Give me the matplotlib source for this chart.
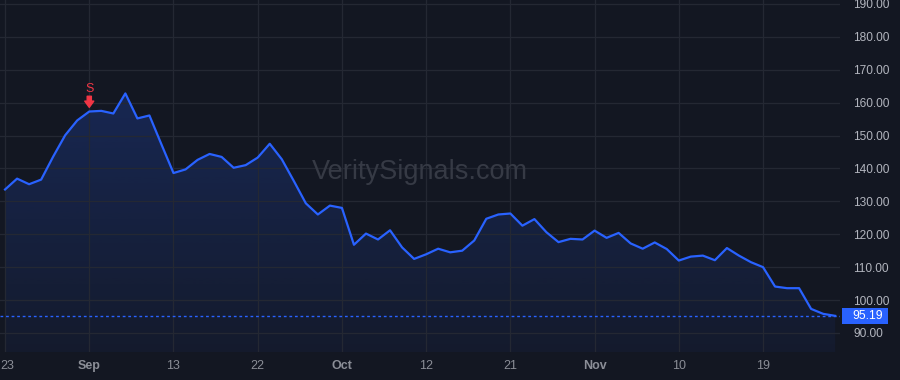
import numpy as np
import matplotlib.pyplot as plt
from matplotlib.colors import to_rgb
from matplotlib.patches import Rectangle

# daily closes
prices = [133.6, 136.9, 135.2, 136.6, 143.6, 150.1, 154.6, 157.3, 157.5, 156.7,
          162.8, 155.2, 156.1, 147.3, 138.6, 139.7, 142.6, 144.4, 143.5, 140.2,
          141.0, 143.3, 147.5, 142.8, 136.2, 129.4, 126.0, 128.7, 128.0, 116.8,
          120.2, 118.4, 121.2, 116.0, 112.5, 113.9, 115.6, 114.5, 115.0, 118.1,
          124.7, 126.0, 126.3, 122.6, 124.6, 120.6, 117.6, 118.6, 118.4, 121.1,
          118.9, 120.4, 117.2, 115.6, 117.5, 115.5, 112.0, 113.2, 113.5, 112.1,
          115.8, 113.5, 111.5, 110.0, 104.1, 103.6, 103.6, 97.3, 95.8, 95.19]
tick_labels = ['23', 'Sep', '13', '22', 'Oct', '12', '21', 'Nov', '10', '19']
month_labels = ['Sep', 'Oct', 'Nov']
y_ticks = [90, 100, 110, 120, 130, 140, 150, 160, 170, 180, 190]
signal_idx = 7
signal_text = 'S'
watermark = 'VeritySignals.com'

bg = '#131722'
grid_c = '#242833'
line_c = '#2962ff'
red = '#f23645'
xlab_c = '#8b8e97'

plt.rcParams['font.family'] = ['Liberation Sans', 'DejaVu Sans']

fig = plt.figure(figsize=(9, 3.8), dpi=100, facecolor=bg)
ax = fig.add_axes([0, 28 / 380, 840 / 900, 352 / 380])
ax.set_facecolor(bg)

x = np.arange(len(prices))
ylim = (84.2, 191.2)
xlim = (-0.42, 69.4)

ax.plot(x, prices, color=line_c, lw=1.6, zorder=3, solid_joinstyle='round')

# gradient fill under the line
poly = ax.fill_between(x, prices, ylim[0], facecolor='none', edgecolor='none')
grad = np.zeros((256, 1, 4))
grad[:, :, :3] = to_rgb(line_c)
grad[:, :, 3] = np.linspace(0.22, 0.05, 256)[:, None]
im = ax.imshow(grad, aspect='auto', origin='upper', zorder=1,
               extent=[x[0], x[-1], ylim[0], max(prices)])
im.set_clip_path(poly.get_paths()[0], transform=ax.transData)

# last price line
ax.axhline(prices[-1], color=line_c, lw=1, ls=(0, (2, 2)), zorder=2)

ax.set_xlim(*xlim)
ax.set_ylim(*ylim)

# grid + ticks
ax.set_yticks(y_ticks)
ax.set_yticklabels(['%.2f' % v for v in y_ticks])
ax.yaxis.tick_right()
ax.set_xticks(x[::7])
# first label sits against the left edge, drawn separately below
ax.set_xticklabels([''] + tick_labels[1:])
for t in ax.get_xticklabels():
    if t.get_text() in month_labels:
        t.set_fontweight('bold')
ax.tick_params(axis='y', length=0, pad=9.5, labelsize=8.6, labelcolor='#b2b5be')
ax.tick_params(axis='x', length=0, pad=6, labelsize=9, labelcolor=xlab_c)
ax.grid(True, color=grid_c, lw=0.9, zorder=0)
for s in ax.spines.values():
    s.set_visible(False)

ax.annotate(tick_labels[0], xy=(0, 0), xycoords='axes fraction', xytext=(0.3, -6),
            textcoords='offset points', ha='left', va='top', fontsize=9,
            color=xlab_c, annotation_clip=False)

# price label on the axis
ytr = ax.get_yaxis_transform()
box_h = 16 / 3.289
ax.add_patch(Rectangle((842 / 840, prices[-1] - box_h / 2), 46 / 840, box_h,
                       transform=ytr, fc=line_c, ec='none', clip_on=False, zorder=5))
ax.text(852 / 840, prices[-1], '%.2f' % prices[-1], transform=ytr,
        ha='left', va='center', fontsize=8.8, color='white', clip_on=False, zorder=6)

# sell signal
ax.annotate('', xy=(signal_idx, prices[signal_idx]), xytext=(0, 11),
            textcoords='offset points', zorder=4,
            arrowprops=dict(arrowstyle='simple,head_length=0.45,head_width=0.65,tail_width=0.3',
                            color=red, shrinkA=0, shrinkB=3))
ax.annotate(signal_text, xy=(signal_idx, prices[signal_idx]), xytext=(0, 16.5),
            textcoords='offset points', ha='center', va='center',
            fontsize=9, color=red, zorder=4)

# watermark
ax.text(0.5, 0.51, watermark, transform=ax.transAxes, ha='center', va='center',
        fontsize=19.5, color='#363a45', zorder=2)

plt.savefig('out.png', dpi=100, facecolor=bg)
